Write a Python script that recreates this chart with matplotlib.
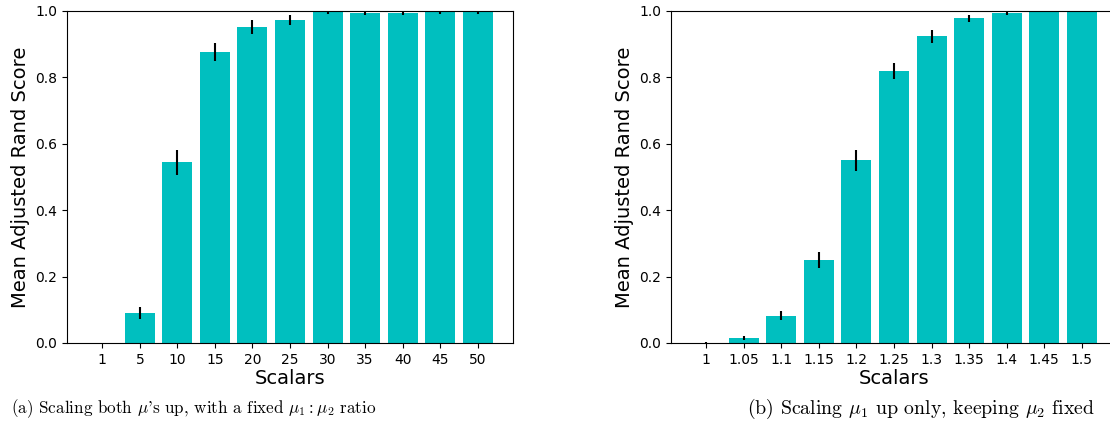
import matplotlib
matplotlib.use("Agg")
import matplotlib.pyplot as plt
import numpy as np

# panel (a): scaling both mu's
scalars_a = ['1', '5', '10', '15', '20', '25', '30', '35', '40', '45', '50']
ari_a = [0.0, 0.090, 0.544, 0.876, 0.951, 0.972, 0.996, 0.993, 0.993, 0.996, 0.996]
err_a = [0.0, 0.018, 0.037, 0.028, 0.021, 0.015, 0.005, 0.005, 0.006, 0.005, 0.005]

# panel (b): scaling mu_1 only
scalars_b = ['1', '1.05', '1.1', '1.15', '1.2', '1.25', '1.3', '1.35', '1.4', '1.45', '1.5']
ari_b = [0.0, 0.015, 0.082, 0.250, 0.550, 0.819, 0.924, 0.978, 0.994, 1.0, 1.0]
err_b = [0.003, 0.005, 0.013, 0.025, 0.031, 0.024, 0.019, 0.011, 0.005, 0.001, 0.0]

captions = [r'(a) Scaling both $\mu$'"'"r's up, with a fixed $\mu_1 : \mu_2$ ratio',
            r'(b) Scaling $\mu_1$ up only, keeping $\mu_2$ fixed']

plt.rcParams['mathtext.fontset'] = 'cm'

W, H = 1110, 434
fig = plt.figure(figsize=(W / 100, H / 100), dpi=100)

def px(x0, y0, w, h):
    return [x0 / W, 1 - (y0 + h) / H, w / W, h / H]

ax1 = fig.add_axes(px(67, 11, 446, 332))
ax2 = fig.add_axes(px(671, 11, 446, 332))  # runs past the right edge, as in the source

for ax, labels, vals, errs in [(ax1, scalars_a, ari_a, err_a), (ax2, scalars_b, ari_b, err_b)]:
    x = np.arange(len(labels))
    ax.bar(x, vals, yerr=errs, color='c', width=0.8, error_kw=dict(elinewidth=1.5, ecolor='black'))
    ax.set_xticks(x)
    ax.set_xticklabels(labels, fontsize=10)
    ax.set_ylim(0, 1.0)
    ax.tick_params(axis='y', labelsize=10)
    ax.set_xlabel('Scalars', fontsize=14, labelpad=2)
    ax.set_ylabel('Mean Adjusted Rand Score', fontsize=14)

fig.text(194 / W, 1 - 409 / H, captions[0], ha='center', va='center',
         fontsize=12.3, family='cmr10')
fig.text(921 / W, 1 - 409 / H, captions[1], ha='center', va='center',
         fontsize=14.3, family='cmr10')

fig.savefig('out.png', dpi=100)
